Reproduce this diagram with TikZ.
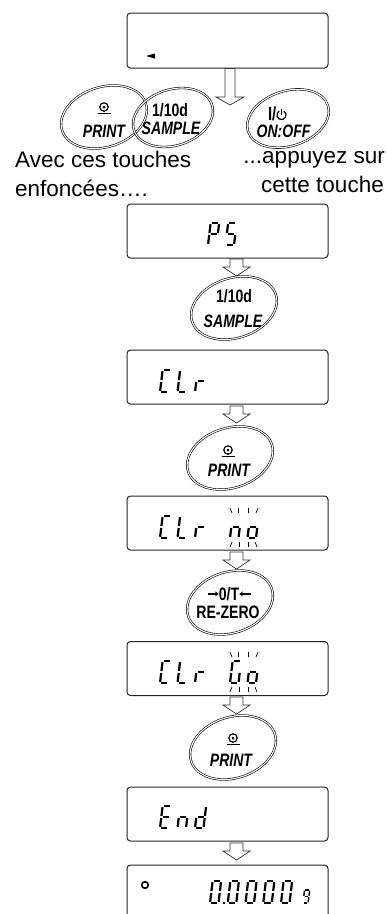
\documentclass[tikz,border=0pt]{standalone}
\usepackage{fontspec}
\setmainfont{Liberation Sans}
\newfontfamily\btnfont[FakeStretch=0.78]{Liberation Sans}
\usetikzlibrary{calc,arrows.meta}
\tikzset{
 dispbox/.style={draw=black!85, line width=1pt, rounded corners=3.5pt, minimum width=201pt, minimum height=54pt, inner sep=0pt},
 keyoval/.style={draw=black, double=white, line width=0.6pt, double distance=1.1pt},
 blockarrowstyle/.style={draw=black!80, line width=0.7pt, fill=white, line join=miter},
 segline/.style={line width=2.2pt, line cap=butt},
 blinkmark/.style={line width=0.7pt},
 keytext/.style={font=\btnfont\bfseries\fontsize{18}{18}\selectfont, inner sep=0pt},
 keytexti/.style={font=\btnfont\bfseries\itshape\fontsize{18}{18}\selectfont, inner sep=0pt},
 bodytext/.style={font=\fontsize{22.5}{22.5}\selectfont, inner sep=0pt, anchor=base west},
 smallarrow/.style={line width=1.3pt, -{Stealth[length=3.5pt,width=5pt]}},
}
% seven segment pieces (local coords: x right, y up; w=8.5, h=22)
\newcommand\sga{\draw[segline] (1.2,22) -- (7.3,22);}
\newcommand\sgb{\draw[segline] (8.5,20.8) -- (8.5,12);}
\newcommand\sgc{\draw[segline] (8.5,10) -- (8.5,1.2);}
\newcommand\sgd{\draw[segline] (1.2,0) -- (7.3,0);}
\newcommand\sge{\draw[segline] (0,1.2) -- (0,10);}
\newcommand\sgf{\draw[segline] (0,12) -- (0,20.8);}
\newcommand\sgg{\draw[segline] (1.2,11) -- (7.3,11);}
\newcommand\segchar[3]{%
 \begin{scope}[shift={(#1,#2)}, y=1pt, xslant=0.12]
  \foreach \s in {#3}{\csname sg\s\endcsname}
 \end{scope}}
\newcommand\hollowarrow[6]{%
 \draw[blockarrowstyle] (#1-#5,#2) -- (#1+#5,#2) -- (#1+#5,#3) -- (#1+#6,#3) -- (#1,#4) -- (#1-#6,#3) -- (#1-#5,#3) -- cycle;}
\newcommand\printsym[2]{%
 \draw[line width=1.2pt] (#1,#2) circle[radius=4.2pt];
 \fill (#1,#2) circle[radius=1.5pt];
 \draw[line width=1.4pt] (#1-6.5,#2+6.3) -- (#1+6.5,#2+6.3);}
\newcommand\blinkmarks[3]{% x of first char, y top of upper marks, y top of lower marks
 \draw[blinkmark] (#1,#2) -- (#1+2,#2+5);
 \draw[blinkmark] (#1+8.5,#2) -- (#1+8.5,#2+5);
 \draw[blinkmark] (#1+18,#2) -- (#1+18,#2+5);
 \draw[blinkmark] (#1+28,#2) -- (#1+26,#2+5);
 \draw[blinkmark] (#1,#3+5) -- (#1+2,#3);
 \draw[blinkmark] (#1+9,#3+5) -- (#1+9,#3);
 \draw[blinkmark] (#1+18,#3+5) -- (#1+18,#3);
 \draw[blinkmark] (#1+27,#3+5) -- (#1+25,#3);}
\begin{document}
\begin{tikzpicture}[x=1pt,y=-1pt]
\useasboundingbox (0,0) rectangle (386,914);
\fill[white] (0,0) rectangle (386,914);
\clip (0,0) rectangle (386,914);

% ---------- display boxes ----------
\node[dispbox, minimum height=55pt] (b1) at (227.5,40.5) {};
\node[dispbox] (b2) at (227.5,231) {};
\node[dispbox] (b3) at (227.5,377) {};
\node[dispbox] (b4) at (227.5,523) {};
\node[dispbox] (b5) at (227.5,668.5) {};
\node[dispbox] (b6) at (227.5,814) {};
\node[dispbox] (b7) at (227.5,892) {};

% box 1 : small marker
\fill (146,56) -- (155,53.5) -- (155,58.5) -- cycle;

% box 2 : PS
\segchar{208}{245}{a,b,f,g,e}
\segchar{225.5}{245}{a,f,g,c,d}

% box 3 : CLr
\segchar{160}{392}{a,f,e,d}
\segchar{177.5}{392}{f,e,d}
\segchar{195}{392}{e,g}

% box 4 : CLr no
\segchar{160}{538}{a,f,e,d}
\segchar{177.5}{538}{f,e,d}
\segchar{195}{538}{e,g}
\segchar{230}{538}{e,g,c}
\segchar{247.5}{538}{e,g,c,d}
\blinkmarks{230}{508}{542}

% box 5 : CLr Go
\segchar{160}{683}{a,f,e,d}
\segchar{177.5}{683}{f,e,d}
\segchar{195}{683}{e,g}
\segchar{230}{683}{a,f,e,d,c}
\segchar{247.5}{683}{e,g,c,d}
\blinkmarks{230}{652}{687}

% box 6 : End
\segchar{160}{828}{a,f,g,e,d}
\segchar{177.5}{828}{e,g,c}
\segchar{195}{828}{b,c,d,e,g}

% box 7 : o 0.0000 g
\draw[line width=1.6pt] (145,885) circle[radius=3.3pt];
\segchar{210}{903}{a,b,c,d,e,f}
\fill (222.5,901.5) rectangle (225,904);
\segchar{227.75}{903}{a,b,c,d,e,f}
\segchar{245.5}{903}{a,b,c,d,e,f}
\segchar{263.25}{903}{a,b,c,d,e,f}
\segchar{281}{903}{a,b,c,d,e,f}
\begin{scope}[shift={(303,903)}, y=1pt, xslant=0.12, scale=0.6, segline/.append style={line width=1.4pt}]
 \foreach \s in {a,b,c,d,f,g}{\csname sg\s\endcsname}
\end{scope}

% ---------- arrows ----------
\hollowarrow{230}{68.5}{97}{105}{5}{14}
\hollowarrow{236.5}{259}{267}{276}{6.5}{13.5}
\hollowarrow{236.5}{406}{414}{423}{6.5}{13.5}
\hollowarrow{236.5}{552}{560}{569}{6.5}{13.5}
\hollowarrow{236.5}{697}{705}{714}{6.5}{13.5}
\hollowarrow{236.5}{843}{851}{860}{6.5}{13.5}

% ---------- top row keys ----------
\draw[keyoval, rotate around={18:(104,117)}] (104,117) ellipse [x radius=44pt, y radius=30pt];
\draw[keyoval, rotate around={18:(173,117.5)}] (173,117.5) ellipse [x radius=41pt, y radius=28pt];
\draw[keyoval, rotate around={18:(288,118.5)}] (288,118.5) ellipse [x radius=42pt, y radius=27.5pt];

\printsym{104}{107}
\node[keytexti] (kp1) at (104,131) {PRINT};
\node[keytext] (ks1a) at (170,110) {1/10d};
\node[keytexti] (ks1b) at (171,128.5) {SAMPLE};
\node[keytext, font=\btnfont\bfseries\fontsize{19}{19}\selectfont, anchor=east] (ko1a) at (276.5,113.5) {I/};
\draw[line width=1.2pt] ($(281.5,115)+(60:4.6pt)$) arc[start angle=60, end angle=-240, radius=4.6pt];
\draw[line width=1.2pt] (281.5,115) -- (281.5,108.5);
\node[keytexti] (ko1b) at (283.5,131.5) {ON:OFF};

% ---------- body text ----------
\node[bodytext] (t1) at (15,167) {Avec ces touches};
\node[bodytext] (t2) at (15,196) {enfoncées….};
\node[bodytext, anchor=base east] (t3) at (385,163) {...appuyez sur};
\node[bodytext, anchor=base east] (t4) at (384,192) {cette touche};

% ---------- lower keys ----------
\draw[keyoval, rotate around={18:(234,308)}] (234,308) ellipse [x radius=44pt, y radius=30pt];
\node[keytext] (ks2a) at (234,296) {1/10d};
\node[keytexti] (ks2b) at (233,321.5) {SAMPLE};

\draw[keyoval, rotate around={18:(230,458)}] (230,458) ellipse [x radius=44pt, y radius=30pt];
\printsym{228}{450}
\node[keytexti] (kp2) at (229,470) {PRINT};

\draw[keyoval, rotate around={18:(230,602.5)}] (230,602.5) ellipse [x radius=44pt, y radius=30.5pt];
\node[keytext] (kz1) at (229,594) {0/T};
\coordinate (zl0) at (207.5,594);
\coordinate (zr0) at (250.5,594);
\draw[smallarrow] (zl0) -- (kz1.west);
\draw[smallarrow] (zr0) -- (kz1.east);
\node[keytext] (kz2) at (228,612.5) {RE-ZERO};

\draw[keyoval, rotate around={18:(233,747.5)}] (233,747.5) ellipse [x radius=44pt, y radius=30.5pt];
\printsym{233}{738}
\node[keytexti] (kp3) at (231,760) {PRINT};
\end{tikzpicture}
\end{document}
